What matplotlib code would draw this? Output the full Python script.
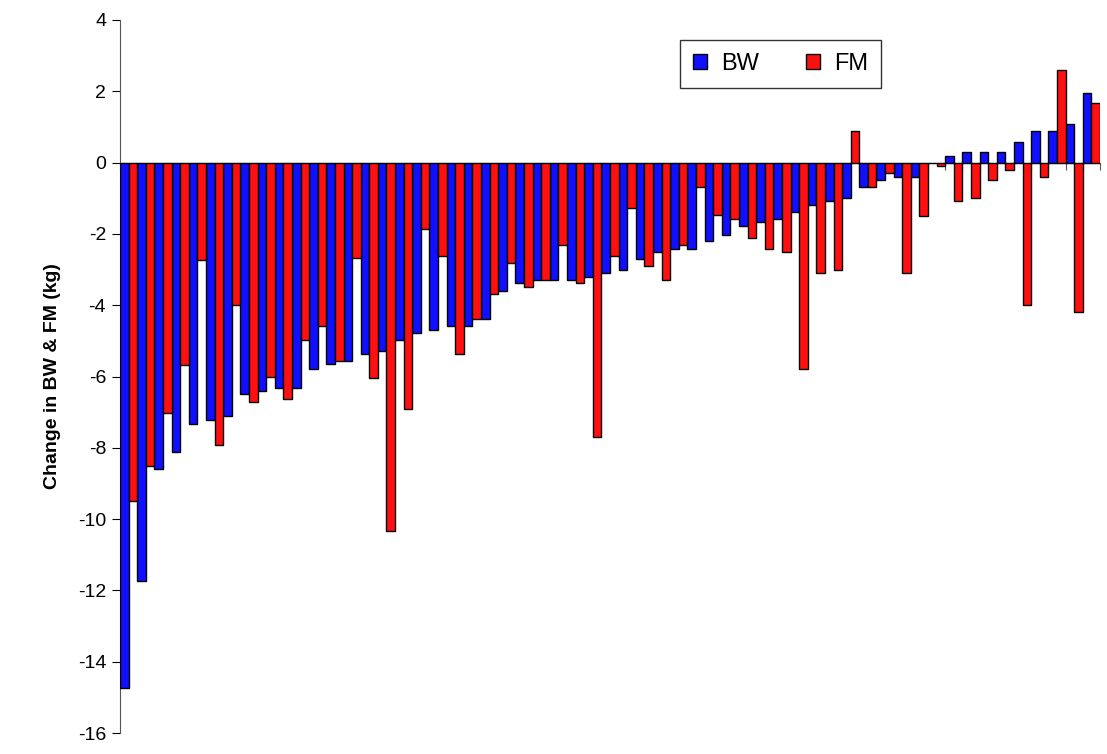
import numpy as np
import matplotlib
matplotlib.use("Agg")
import matplotlib.pyplot as plt
from matplotlib.patches import Patch

plt.rcParams['font.family'] = ['Liberation Sans', 'DejaVu Sans']

# change in body weight (BW) and fat mass (FM) per subject, kg, sorted by BW
bw = [-14.75, -11.73, -8.60, -8.11, -7.32, -7.22, -7.12,
      -6.50, -6.40, -6.31, -6.31, -5.78, -5.66, -5.57,
      -5.37, -5.28, -4.98, -4.79, -4.69, -4.59, -4.59,
      -4.39, -3.60, -3.39, -3.30, -3.30, -3.30, -3.21,
      -3.11, -3.00, -2.71, -2.51, -2.42, -2.42, -2.21,
      -2.02, -1.78, -1.67, -1.58, -1.38, -1.18, -1.08,
      -0.98, -0.69, -0.50, -0.40, -0.40, 0.0, 0.19, 0.30, 0.30, 0.30,
      0.59, 0.88, 0.88, 1.07, 1.96]
fm = [-9.49, -8.50, -7.02, -5.68, -2.72, -7.91, -3.99,
      -6.71, -6.02, -6.62, -4.98, -4.58, -5.56, -2.69,
      -6.03, -10.33, -6.92, -1.87, -2.62, -5.38, -4.39,
      -3.69, -2.81, -3.50, -3.30, -2.32, -3.39, -7.69,
      -2.62, -1.27, -2.91, -3.30, -2.32, -0.68, -1.48,
      -1.57, -2.11, -2.42, -2.51, -5.78, -3.11, -3.00,
      0.88, -0.69, -0.30, -3.11, -1.49, -0.10, -1.09, -0.99, -0.50, -0.21,
      -4.00, -0.40, 2.61, -4.20, 1.68]

series_names = ['BW', 'FM']
colors = ['#1010ff', '#ff1010']
yticks = list(range(-16, 5, 2))

fig = plt.figure(figsize=(11.07, 7.54), dpi=100)
ax = fig.add_axes([120 / 1107, 21 / 754, 980 / 1107, 713 / 754])

x = np.arange(len(bw))
w = 0.5
ax.bar(x - w / 2, bw, w, color=colors[0], edgecolor='black', linewidth=1.0, zorder=3)
ax.bar(x + w / 2, fm, w, color=colors[1], edgecolor='black', linewidth=1.0, zorder=3)

ax.set_xlim(-0.5, len(bw) - 0.5)
ax.set_ylim(-16, 4)
ax.set_yticks(yticks)
ax.set_yticklabels([str(t) for t in yticks], fontsize=14)
ax.set_xticks(np.arange(-0.5, len(bw), 1))
ax.set_xticklabels([])

ax.spines['top'].set_visible(False)
ax.spines['right'].set_visible(False)
ax.spines['bottom'].set_position(('data', 0))
ax.spines['left'].set_color('#555555')
ax.spines['bottom'].set_color('#555555')
ax.tick_params(axis='y', direction='out', length=6, color='black', pad=4)
ax.tick_params(axis='x', direction='out', length=5, color='#555555')

ax.set_ylabel('Change in BW & FM (kg)', fontsize=14, fontweight='bold', labelpad=12)

handles = [Patch(facecolor=c, edgecolor='black', label=n) for c, n in zip(colors, series_names)]
leg = ax.legend(handles=handles, loc='upper left', bbox_to_anchor=(0.571, 0.972), ncol=2,
                fontsize=17, frameon=True, fancybox=False, edgecolor='black',
                borderaxespad=0, handlelength=0.6, handleheight=0.6,
                handletextpad=0.6, columnspacing=2.0, borderpad=0.55)
leg.get_frame().set_linewidth(1.0)

fig.savefig('out.png', dpi=100)
